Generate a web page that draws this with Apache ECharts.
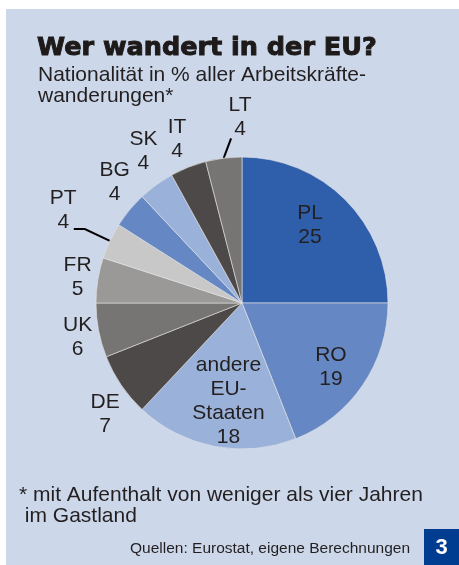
<!DOCTYPE html>
<html>
<head>
<meta charset="utf-8">
<script src="https://cdn.jsdelivr.net/npm/echarts@6/dist/echarts.min.js"></script>
<style>
  html, body { margin: 0; padding: 0; background: #fff; }
  #chart { width: 459px; height: 565px; }
</style>
</head>
<body>
<div id="chart"></div>
<script>
// Daten
const countries = ['PL', 'RO', 'andere EU-Staaten', 'DE', 'UK', 'FR', 'PT', 'BG', 'SK', 'IT', 'LT'];
const shares = [25, 19, 18, 7, 6, 5, 4, 4, 4, 4, 4];
const sliceColors = ['#2F5EAB', '#6588C4', '#9AB1D9', '#4D4948', '#777573', '#9B9997',
                     '#C8C8C8', '#6588C4', '#9AB1D9', '#4D4948', '#777573'];

// Platzierung der Beschriftungen: [Winkelversatz in Grad, Radiusfaktor]
const labelPlace = [[-4, 0.71], [1.5, 0.75], [-3, 0.68], [-5, 1.21], [-1, 1.15], [0, 1.14],
                    [2.3, 1.38], [3.8, 1.2], [3, 1.24], [0, 1.21], [6.6, 1.27]];

const CX = 242, CY = 303, R = 146;
const textColor = '#231F20';

const chart = echarts.init(document.getElementById('chart'), null, { renderer: 'canvas' });

const total = shares.reduce((a, b) => a + b, 0);
const midAngles = [];
let acc = 0;
shares.forEach(v => { midAngles.push((acc + v / 2) / total * 360); acc += v; });

function pt(angDeg, rf) {
    const a = angDeg * Math.PI / 180;
    return [CX + rf * R * Math.sin(a), CY - rf * R * Math.cos(a)];
}

const options = {
    animation: false,
    graphic: [
        { type: 'rect', shape: { x: 6, y: 9, width: 453, height: 556 }, style: { fill: '#CCD8EA' }, z: -10 },
        { type: 'rect', shape: { x: 424, y: 529, width: 35, height: 36 }, style: { fill: '#003C8F' }, z: 5 },
        {
            type: 'text', x: 441.5, y: 547.5, z: 6,
            style: { text: '3', fill: '#fff', font: 'bold 22px "Liberation Sans"', align: 'center', verticalAlign: 'middle' }
        }
    ],
    title: [
        {
            text: 'Wer wandert in der EU?',
            left: 37, top: 33, padding: 0,
            textStyle: {
                fontFamily: 'DejaVu Sans', fontWeight: 'bold', fontSize: 25.5, lineHeight: 30,
                color: '#1E1A19', textBorderColor: '#1E1A19', textBorderWidth: 1
            }
        },
        {
            text: 'Nationalität in % aller Arbeitskräfte-\nwanderungen*',
            left: 38, top: 65, padding: 0,
            textStyle: { fontFamily: 'Liberation Sans', fontWeight: 'normal', fontSize: 21, lineHeight: 20.5, color: textColor }
        },
        {
            text: '* mit Aufenthalt von weniger als vier Jahren\n im Gastland',
            left: 19, top: 485, padding: 0,
            textStyle: { fontFamily: 'Liberation Sans', fontWeight: 'normal', fontSize: 21, lineHeight: 21, color: textColor }
        },
        {
            text: 'Quellen: Eurostat, eigene Berechnungen',
            left: 130, top: 540, padding: 0,
            textStyle: { fontFamily: 'Liberation Sans', fontWeight: 'normal', fontSize: 15.5, lineHeight: 18, color: textColor }
        }
    ],
    series: [
        {
            type: 'pie',
            center: [CX, CY],
            radius: R,
            startAngle: 90,
            clockwise: true,
            avoidLabelOverlap: false,
            itemStyle: { borderColor: '#E4E4E4', borderWidth: 0.6 },
            label: {
                show: true,
                position: 'outside',
                formatter: p => p.name.replace('andere EU-Staaten', 'andere\nEU-\nStaaten') + '\n' + p.value,
                fontFamily: 'Liberation Sans',
                fontSize: 21,
                lineHeight: 24,
                color: textColor,
                align: 'center'
            },
            labelLine: { show: false, lineStyle: { color: '#000', width: 2 } },
            labelLayout: function (params) {
                const i = params.dataIndex;
                const place = labelPlace[i];
                const c = pt(midAngles[i] + place[0], place[1]);
                const out = { x: c[0], y: c[1], align: 'center', verticalAlign: 'middle' };
                if (countries[i] === 'PT') {
                    const p0 = pt(midAngles[i], 1.0);
                    const p1 = pt(midAngles[i], 1.19);
                    out.labelLinePoints = [p0, p1, [p1[0] - 11, p1[1]]];
                } else if (countries[i] === 'LT') {
                    const p0 = pt(midAngles[i], 1.0);
                    const p1 = pt(356.2, 1.13);
                    out.labelLinePoints = [p0, p1, p1];
                }
                return out;
            },
            data: countries.map((name, i) => ({
                name: name,
                value: shares[i],
                itemStyle: { color: sliceColors[i] },
                labelLine: { show: name === 'PT' || name === 'LT' }
            }))
        }
    ]
};

chart.setOption(options);

window.addEventListener('resize', () => {
    chart.resize();
});
</script>
</body>
</html>
